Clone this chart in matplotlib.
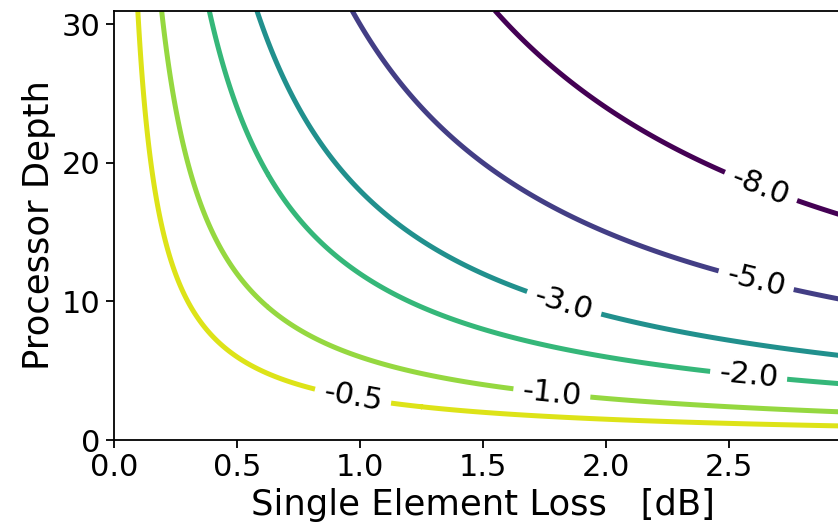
import numpy as np
import matplotlib
matplotlib.use('Agg')
import matplotlib.pyplot as plt

# grid of single element loss [dB] and processor depth
loss = np.linspace(0.0, 3.0, 601)
depth = np.linspace(0.0, 31.0, 621)
levels = [-8.0, -5.0, -3.0, -2.0, -1.0, -0.5]
line_colors = ['#440154', '#433e85', '#21908d', '#35b779', '#95d840', '#dde318']

# label spots (loss, depth)
label_spots = [(2.63, 18.3), (2.61, 11.5), (1.83, 9.9), (2.58, 4.7), (1.78, 3.4), (0.97, 3.0)]

L, D = np.meshgrid(loss, depth)
Z = -L * D / 6.0

fig = plt.figure(figsize=(8.38, 5.28), dpi=100)
ax = fig.add_axes([114 / 838, 88 / 528, 738 / 838, 429.5 / 528])

cs = ax.contour(L, D, Z, levels=levels, colors=line_colors, linewidths=3.6)
ax.clabel(cs, fmt='%1.1f', fontsize=22, colors='black', inline=True,
          inline_spacing=9, manual=label_spots)

ax.set_xlim(0, 3.0)
ax.set_ylim(0, 31)
ax.set_xticks([0.0, 0.5, 1.0, 1.5, 2.0, 2.5])
ax.set_yticks([0, 10, 20, 30])
ax.tick_params(labelsize=22, length=6, width=1.3)
for s in ax.spines.values():
    s.set_linewidth(1.3)

ax.set_xlabel('Single Element Loss   [dB]', fontsize=25.5)
ax.set_ylabel('Processor Depth', fontsize=25.5)

fig.savefig('out.png', dpi=100)
